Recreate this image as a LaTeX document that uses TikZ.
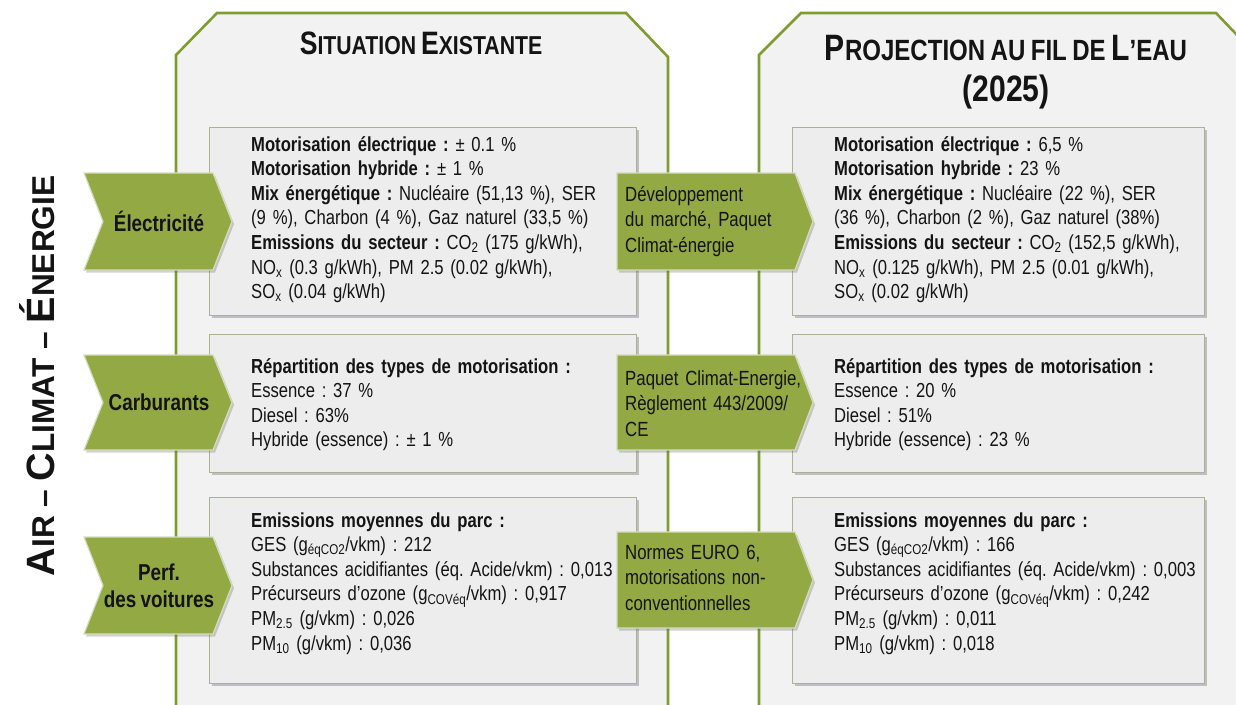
\documentclass[tikz,border=0pt]{standalone}
\usepackage{fontspec}
\setmainfont{Liberation Sans}[FakeStretch=0.82, WordSpace=0.82]
\newfontfamily\widefont{Liberation Sans}
\usetikzlibrary{shadows}
\frenchspacing

\definecolor{panelfill}{HTML}{F2F2F2}
\definecolor{panelline}{HTML}{7F9C31}
\definecolor{boxfill}{HTML}{EDEDED}
\definecolor{boxline}{HTML}{A9B393}
\definecolor{chevfill}{HTML}{93A943}
\definecolor{chevedge}{HTML}{D3DCBC}
\definecolor{ink}{HTML}{141414}

% fake small capitals: large initials, smaller remaining letters
\newcommand\scbig{30}
\newcommand\scsmall{24}
\newcommand\SCb[1]{{\fontsize{\scbig}{\scbig}\selectfont #1}}
\newcommand\SCs[1]{{\fontsize{\scsmall}{\scsmall}\selectfont #1}}

\tikzset{
  panel/.style={fill=panelfill, draw=panelline, line width=2.6pt, line join=miter},
  infobox/.style={fill=boxfill, draw=boxline, line width=1pt,
    drop shadow={shadow xshift=2.5pt, shadow yshift=-3pt, opacity=.3, fill=black!70}},
  chevron/.style={fill=chevfill, draw=chevedge, line width=1.2pt, line join=miter,
    drop shadow={shadow xshift=2pt, shadow yshift=-2.5pt, opacity=.25, fill=black!70}},
  body/.style={anchor=base west, inner sep=0pt, text width=#1, align=left, text=ink,
    font=\fontsize{20.3}{24.6}\selectfont\frenchspacing},
  body/.default=400pt,
  chevlabel/.style={inner sep=0pt, align=center, text=ink,
    font=\fontsize{23}{27}\selectfont\bfseries},
  midlabel/.style={anchor=base west, inner sep=0pt, text width=185pt, align=left, text=ink,
    font=\fontsize{20.5}{25.5}\selectfont\frenchspacing},
  header/.style={anchor=base, inner sep=0pt, text=ink, font=\bfseries},
}

\begin{document}
\begin{tikzpicture}[x=1pt, y=-1pt]
\useasboundingbox (0,0) rectangle (1236,704);
\clip (0,0) rectangle (1236,704);

% ---- the two column panels ----
\path[panel] (176,712) -- (176,55) -- (217,13) -- (626,13) -- (668,57) -- (668,712);
\path[panel] (759,712) -- (759,55) -- (801,13) -- (1216,13) -- (1258,57) -- (1258,712);

% ---- column headers ----
\node[header] (hsit) at (421,54) {\renewcommand\scbig{32.4}\renewcommand\scsmall{25.9}%
  \SCb{S}\SCs{ITUATION }\SCb{E}\SCs{XISTANTE}};
\node[header] (hproj) at (1006,60) {\renewcommand\scbig{36.7}\renewcommand\scsmall{29.3}%
  \SCb{P}\SCs{ROJECTION AU FIL DE }\SCb{L}\SCs{’EAU}};
\node[header] (hyear) at (1006,101) {\fontsize{36.7}{40}\selectfont (2025)};

% ---- information boxes, current situation ----
\path[infobox] (209,127) rectangle (636,315);
\path[infobox] (209,334) rectangle (636,472);
\path[infobox] (209,497) rectangle (636,683);

% ---- information boxes, 2025 projection ----
\path[infobox] (792,127) rectangle (1204,315);
\path[infobox] (792,334) rectangle (1204,472);
\path[infobox] (792,497) rectangle (1204,683);

\node[body] (s1) at (251,151) {%
  \textbf{Motorisation électrique :} ± 0.1 \%\\
  \textbf{Motorisation hybride :} ± 1 \%\\
  \textbf{Mix énergétique :} Nucléaire (51,13 \%), SER\\
  (9 \%), Charbon (4 \%), Gaz naturel (33,5 \%)\\
  \textbf{Emissions du secteur :} CO\textsubscript{2} (175 g/kWh),\\
  NO\textsubscript{x} (0.3 g/kWh), PM 2.5 (0.02 g/kWh),\\
  SO\textsubscript{x} (0.04 g/kWh)};

\node[body] (s2) at (251,373) {%
  \textbf{Répartition des types de motorisation :}\\
  Essence : 37 \%\\
  Diesel : 63\%\\
  Hybride (essence) : ± 1 \%};

\node[body] (s3) at (251,527) {%
  \textbf{Emissions moyennes du parc :}\\
  GES (g\textsubscript{éqCO2}/vkm) : 212\\
  Substances acidifiantes (éq. Acide/vkm) : 0,013\\
  Précurseurs d’ozone (g\textsubscript{COVéq}/vkm) : 0,917\\
  PM\textsubscript{2.5} (g/vkm) : 0,026\\
  PM\textsubscript{10} (g/vkm) : 0,036};

\node[body] (p1) at (834,151) {%
  \textbf{Motorisation électrique :} 6,5 \%\\
  \textbf{Motorisation hybride :} 23 \%\\
  \textbf{Mix énergétique :} Nucléaire (22 \%), SER\\
  (36 \%), Charbon (2 \%), Gaz naturel (38\%)\\
  \textbf{Emissions du secteur :} CO\textsubscript{2} (152,5 g/kWh),\\
  NO\textsubscript{x} (0.125 g/kWh), PM 2.5 (0.01 g/kWh),\\
  SO\textsubscript{x} (0.02 g/kWh)};

\node[body] (p2) at (834,373) {%
  \textbf{Répartition des types de motorisation :}\\
  Essence : 20 \%\\
  Diesel : 51\%\\
  Hybride (essence) : 23 \%};

\node[body] (p3) at (834,527) {%
  \textbf{Emissions moyennes du parc :}\\
  GES (g\textsubscript{éqCO2}/vkm) : 166\\
  Substances acidifiantes (éq. Acide/vkm) : 0,003\\
  Précurseurs d’ozone (g\textsubscript{COVéq}/vkm) : 0,242\\
  PM\textsubscript{2.5} (g/vkm) : 0,011\\
  PM\textsubscript{10} (g/vkm) : 0,018};

% ---- theme chevrons on the left ----
\path[chevron] (84,173) -- (213,173) -- (232,221.5) -- (213,270) -- (84,270) -- (103,221.5) -- cycle;
\node[chevlabel] (celec) at (159,221.5) {Électricité};

\path[chevron] (84,355) -- (213,355) -- (232,402.5) -- (213,450) -- (84,450) -- (103,402.5) -- cycle;
\node[chevlabel] (ccarb) at (159,402.5) {Carburants};

\path[chevron] (84,537) -- (213,537) -- (232,585.5) -- (213,634) -- (84,634) -- (103,585.5) -- cycle;
\node[chevlabel] (cperf) at (159,585.5) {Perf.\\des voitures};

% ---- driver chevrons between the columns ----
\path[chevron] (617,173) -- (795,173) -- (813,221.5) -- (795,270) -- (617,270) -- cycle;
\node[midlabel] (mdev) at (625,201) {Développement\\du marché, Paquet\\Climat-énergie};

\path[chevron] (617,355) -- (795,355) -- (813,402.5) -- (795,450) -- (617,450) -- cycle;
\node[midlabel] (mpaq) at (625,385) {Paquet Climat-Energie,\\Règlement 443/2009/\\CE};

\path[chevron] (617,532) -- (795,532) -- (813,580) -- (795,628) -- (617,628) -- cycle;
\node[midlabel] (meuro) at (625,559) {Normes EURO 6,\\motorisations non-\\conventionnelles};

% ---- vertical theme title ----
\node[rotate=90, inner sep=0pt, text=ink, font=\widefont\bfseries] (theme) at (37,376) {%
  \renewcommand\scbig{39.5}\renewcommand\scsmall{31.6}%
  \SCb{A}\SCs{IR – }\SCb{C}\SCs{LIMAT – }\SCb{É}\SCs{NERGIE}};
\end{tikzpicture}
\end{document}
